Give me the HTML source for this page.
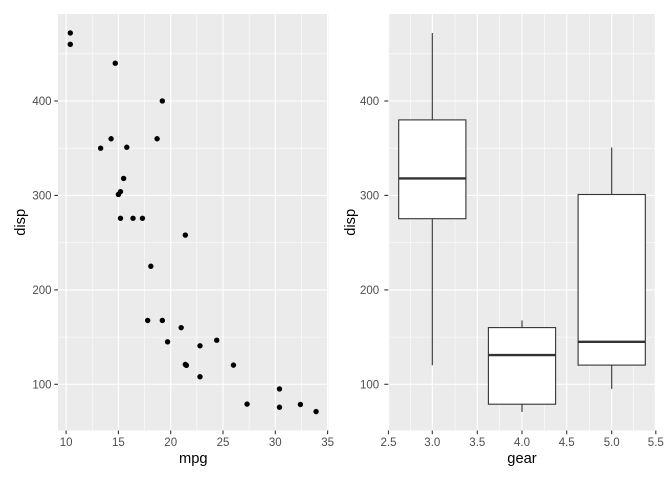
<!DOCTYPE html>
<html><head><meta charset="utf-8"><style>
html,body{margin:0;padding:0;background:#fff;}
svg{display:block;font-family:"Liberation Sans",Arial,sans-serif;}
</style></head><body>
<svg width="672" height="480" viewBox="0 0 672 480" xmlns="http://www.w3.org/2000/svg">
<rect width="672" height="480" fill="#fff"/>
<!-- LEFT PANEL -->
<rect x="58" y="14" width="270.5" height="416.5" fill="#EBEBEB"/>
<g stroke="#fff" stroke-width="0.55">
<line x1="92.25" y1="14" x2="92.25" y2="430.5"/><line x1="144.55" y1="14" x2="144.55" y2="430.5"/><line x1="196.85" y1="14" x2="196.85" y2="430.5"/><line x1="249.15" y1="14" x2="249.15" y2="430.5"/><line x1="301.45" y1="14" x2="301.45" y2="430.5"/>
<line x1="58" y1="337.1" x2="328.5" y2="337.1"/><line x1="58" y1="242.6" x2="328.5" y2="242.6"/><line x1="58" y1="148.2" x2="328.5" y2="148.2"/><line x1="58" y1="53.8" x2="328.5" y2="53.8"/>
</g>
<g stroke="#fff" stroke-width="1.1">
<line x1="66.1" y1="14" x2="66.1" y2="430.5"/><line x1="118.4" y1="14" x2="118.4" y2="430.5"/><line x1="170.7" y1="14" x2="170.7" y2="430.5"/><line x1="223" y1="14" x2="223" y2="430.5"/><line x1="275.3" y1="14" x2="275.3" y2="430.5"/><line x1="327.6" y1="14" x2="327.6" y2="430.5"/>
<line x1="58" y1="384.3" x2="328.5" y2="384.3"/><line x1="58" y1="289.9" x2="328.5" y2="289.9"/><line x1="58" y1="195.4" x2="328.5" y2="195.4"/><line x1="58" y1="101" x2="328.5" y2="101"/>
</g>
<g fill="#000">
<circle cx="181.16" cy="327.64" r="2.7"/><circle cx="199.99" cy="376.74" r="2.7"/><circle cx="185.34" cy="235.08" r="2.7"/><circle cx="157.1" cy="138.76" r="2.7"/><circle cx="150.83" cy="266.25" r="2.7"/><circle cx="111.08" cy="138.76" r="2.7"/><circle cx="216.72" cy="340.2" r="2.7"/><circle cx="199.99" cy="345.77" r="2.7"/><circle cx="162.33" cy="320.46" r="2.7"/><circle cx="147.69" cy="320.46" r="2.7"/><circle cx="133.04" cy="218.27" r="2.7"/><circle cx="142.46" cy="218.27" r="2.7"/><circle cx="120.49" cy="218.27" r="2.7"/><circle cx="70.28" cy="32.98" r="2.7"/><circle cx="70.28" cy="44.32" r="2.7"/><circle cx="115.26" cy="63.2" r="2.7"/><circle cx="300.4" cy="404.42" r="2.7"/><circle cx="279.48" cy="407.25" r="2.7"/><circle cx="316.09" cy="411.59" r="2.7"/><circle cx="186.39" cy="365.32" r="2.7"/><circle cx="123.63" cy="178.42" r="2.7"/><circle cx="120.49" cy="191.64" r="2.7"/><circle cx="100.62" cy="148.2" r="2.7"/><circle cx="162.33" cy="100.98" r="2.7"/><circle cx="247.06" cy="404.13" r="2.7"/><circle cx="233.46" cy="365.13" r="2.7"/><circle cx="279.48" cy="388.93" r="2.7"/><circle cx="126.77" cy="147.26" r="2.7"/><circle cx="167.56" cy="341.8" r="2.7"/><circle cx="118.4" cy="194.48" r="2.7"/><circle cx="185.34" cy="364.47" r="2.7"/>
</g>
<g stroke="#333" stroke-width="1.1">
<line x1="54.3" y1="384.3" x2="58" y2="384.3"/><line x1="54.3" y1="289.9" x2="58" y2="289.9"/><line x1="54.3" y1="195.4" x2="58" y2="195.4"/><line x1="54.3" y1="101" x2="58" y2="101"/>
<line x1="66.1" y1="430.5" x2="66.1" y2="434.2"/><line x1="118.4" y1="430.5" x2="118.4" y2="434.2"/><line x1="170.7" y1="430.5" x2="170.7" y2="434.2"/><line x1="223" y1="430.5" x2="223" y2="434.2"/><line x1="275.3" y1="430.5" x2="275.3" y2="434.2"/><line x1="327.6" y1="430.5" x2="327.6" y2="434.2"/>
</g>
<g fill="#4D4D4D" font-size="11.5" text-anchor="end">
<text x="51.5" y="388.4">100</text><text x="51.5" y="294">200</text><text x="51.5" y="199.5">300</text><text x="51.5" y="105.1">400</text>
</g>
<g fill="#4D4D4D" font-size="11.5" text-anchor="middle">
<text x="66.1" y="446">10</text><text x="118.4" y="446">15</text><text x="170.7" y="446">20</text><text x="223" y="446">25</text><text x="275.3" y="446">30</text><text x="327.6" y="446">35</text>
</g>
<text x="193.3" y="463" font-size="14.7" text-anchor="middle" fill="#000">mpg</text>
<text transform="translate(25,222.3) rotate(-90)" font-size="14.7" text-anchor="middle" fill="#000">disp</text>

<!-- RIGHT PANEL -->
<rect x="388.3" y="14" width="267.2" height="416.5" fill="#EBEBEB"/>
<g stroke="#fff" stroke-width="0.55">
<line x1="410.7" y1="14" x2="410.7" y2="430.5"/><line x1="455" y1="14" x2="455" y2="430.5"/><line x1="499.7" y1="14" x2="499.7" y2="430.5"/><line x1="544.3" y1="14" x2="544.3" y2="430.5"/><line x1="589.3" y1="14" x2="589.3" y2="430.5"/><line x1="633.7" y1="14" x2="633.7" y2="430.5"/>
<line x1="388.3" y1="337.1" x2="655.5" y2="337.1"/><line x1="388.3" y1="242.6" x2="655.5" y2="242.6"/><line x1="388.3" y1="148.2" x2="655.5" y2="148.2"/><line x1="388.3" y1="53.8" x2="655.5" y2="53.8"/>
</g>
<g stroke="#fff" stroke-width="1.1">
<line x1="388.5" y1="14" x2="388.5" y2="430.5"/><line x1="432.3" y1="14" x2="432.3" y2="430.5"/><line x1="477.3" y1="14" x2="477.3" y2="430.5"/><line x1="522" y1="14" x2="522" y2="430.5"/><line x1="566.7" y1="14" x2="566.7" y2="430.5"/><line x1="611.7" y1="14" x2="611.7" y2="430.5"/><line x1="655.3" y1="14" x2="655.3" y2="430.5"/>
<line x1="388.3" y1="384.3" x2="655.5" y2="384.3"/><line x1="388.3" y1="289.9" x2="655.5" y2="289.9"/><line x1="388.3" y1="195.4" x2="655.5" y2="195.4"/><line x1="388.3" y1="101" x2="655.5" y2="101"/>
</g>
<!-- boxes -->
<g stroke="#333" stroke-width="1.1" fill="#fff">
<line x1="432.3" y1="33" x2="432.3" y2="119.9"/><line x1="432.3" y1="218.7" x2="432.3" y2="365.3"/>
<rect x="398.7" y="119.9" width="67.2" height="98.8"/>
<line x1="522" y1="320.5" x2="522" y2="327.6"/><line x1="522" y1="404.2" x2="522" y2="411.9"/>
<rect x="488.4" y="327.6" width="67.2" height="76.6"/>
<line x1="611.7" y1="147.5" x2="611.7" y2="194.5"/><line x1="611.7" y1="365.1" x2="611.7" y2="388.9"/>
<rect x="578.1" y="194.5" width="67.2" height="170.6"/>
</g>
<g stroke="#333" stroke-width="2.4">
<line x1="398.7" y1="178.4" x2="465.9" y2="178.4"/>
<line x1="488.4" y1="355.1" x2="555.6" y2="355.1"/>
<line x1="578.1" y1="341.8" x2="645.3" y2="341.8"/>
</g>
<g stroke="#333" stroke-width="1.1">
<line x1="384.3" y1="384.3" x2="388.3" y2="384.3"/><line x1="384.3" y1="289.9" x2="388.3" y2="289.9"/><line x1="384.3" y1="195.4" x2="388.3" y2="195.4"/><line x1="384.3" y1="101" x2="388.3" y2="101"/>
<line x1="388.5" y1="430.5" x2="388.5" y2="434.2"/><line x1="432.3" y1="430.5" x2="432.3" y2="434.2"/><line x1="477.3" y1="430.5" x2="477.3" y2="434.2"/><line x1="522" y1="430.5" x2="522" y2="434.2"/><line x1="566.7" y1="430.5" x2="566.7" y2="434.2"/><line x1="611.7" y1="430.5" x2="611.7" y2="434.2"/><line x1="655.8" y1="430.5" x2="655.8" y2="434.2"/>
</g>
<g fill="#4D4D4D" font-size="11.5" text-anchor="end">
<text x="379.2" y="388.4">100</text><text x="379.2" y="294">200</text><text x="379.2" y="199.5">300</text><text x="379.2" y="105.1">400</text>
</g>
<g fill="#4D4D4D" font-size="11.5" text-anchor="middle">
<text x="388.5" y="446">2.5</text><text x="432.3" y="446">3.0</text><text x="477.3" y="446">3.5</text><text x="522" y="446">4.0</text><text x="566.7" y="446">4.5</text><text x="611.7" y="446">5.0</text><text x="655.8" y="446">5.5</text>
</g>
<text x="522" y="463" font-size="14.7" text-anchor="middle" fill="#000">gear</text>
<text transform="translate(355,222.3) rotate(-90)" font-size="14.7" text-anchor="middle" fill="#000">disp</text>
</svg>
</body></html>
